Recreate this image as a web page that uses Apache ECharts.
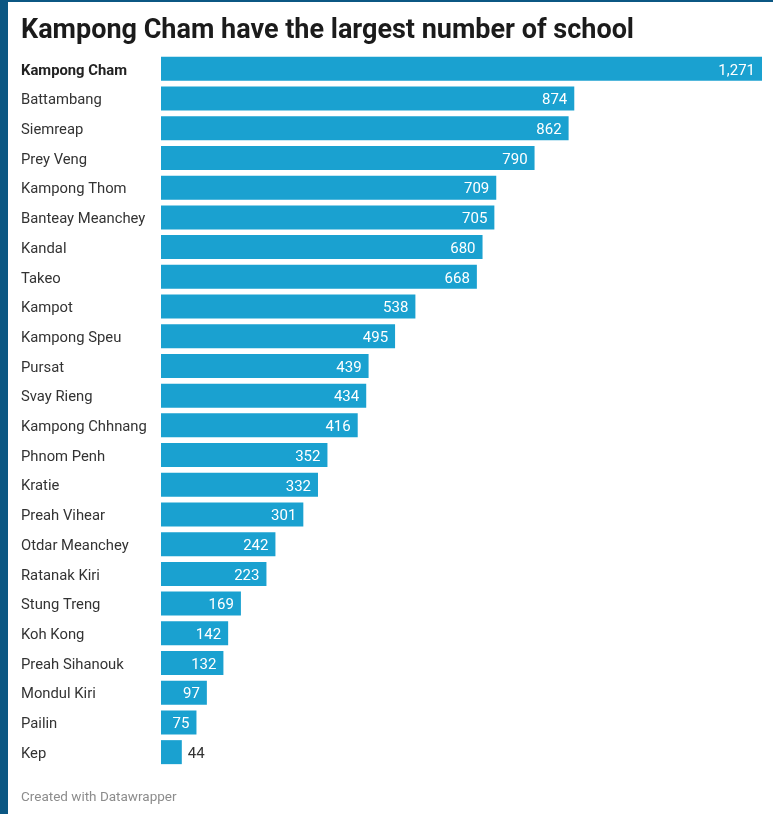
<!DOCTYPE html>
<html><head><meta charset="utf-8">
<script src="https://cdn.jsdelivr.net/npm/echarts@6/dist/echarts.min.js"></script>
<style>
html,body{margin:0;padding:0;background:#fff;}
#c{width:773px;height:814px;}
.bl{position:absolute;left:0;top:0;width:8px;height:814px;background:#0b5783;}
.bt{position:absolute;left:0;top:0;width:773px;height:2px;background:#0b5783;}
</style></head>
<body>
<div id="c"></div><div class="bl"></div><div class="bt"></div>
<script>
const categories = ["Kampong Cham","Battambang","Siemreap","Prey Veng","Kampong Thom","Banteay Meanchey","Kandal","Takeo","Kampot","Kampong Speu","Pursat","Svay Rieng","Kampong Chhnang","Phnom Penh","Kratie","Preah Vihear","Otdar Meanchey","Ratanak Kiri","Stung Treng","Koh Kong","Preah Sihanouk","Mondul Kiri","Pailin","Kep"];
const schools = [1271,874,862,790,709,705,680,668,538,495,439,434,416,352,332,301,242,223,169,142,132,97,75,44];
const titleText = "Kampong Cham have the largest number of school";
const footerText = "Created with Datawrapper";

const fmt = v => v.toLocaleString('en-US');
const data = schools.map(v => v < 60 ? {value: v, label: {position: 'right', color: '#333', distance: 6}} : v);

const chart = echarts.init(document.getElementById('c'));
chart.setOption({
  backgroundColor: '#fff',
  animation: false,
  title: [{
    text: titleText, left: 21, top: 18, padding: 0,
    textStyle: {fontFamily: 'Roboto', fontSize: 27, fontWeight: 'bold', color: '#1b1b1b'}
  },{
    text: footerText, left: 21, top: 791, padding: 0,
    textStyle: {fontFamily: 'Roboto', fontSize: 13.5, fontWeight: 'normal', color: '#8c8c8c'}
  }],
  grid: {left: 161, right: 11, top: 54, height: 713},
  xAxis: {type: 'value', min: 0, max: 1271, show: false},
  yAxis: {
    type: 'category', data: categories, inverse: true,
    axisLine: {show: false}, axisTick: {show: false}, splitLine: {show: false},
    axisLabel: {
      margin: 140, align: 'left', fontFamily: 'Roboto', fontSize: 14.8, color: '#333',
      padding: [4, 0, 0, 0],
      formatter: (v, i) => i === 0 ? '{b|' + v + '}' : v,
      rich: {b: {fontFamily: 'Roboto', fontSize: 14.8, fontWeight: 'bold', color: '#222'}}
    }
  },
  series: [{
    type: 'bar', data: data, barWidth: 24,
    itemStyle: {color: '#1aa1d0'},
    label: {
      show: true, position: 'insideRight', distance: 7, color: '#fff',
      fontFamily: 'Roboto', fontSize: 15, offset: [0, 2],
      formatter: p => fmt(p.value)
    }
  }]
});
</script>
</body></html>
